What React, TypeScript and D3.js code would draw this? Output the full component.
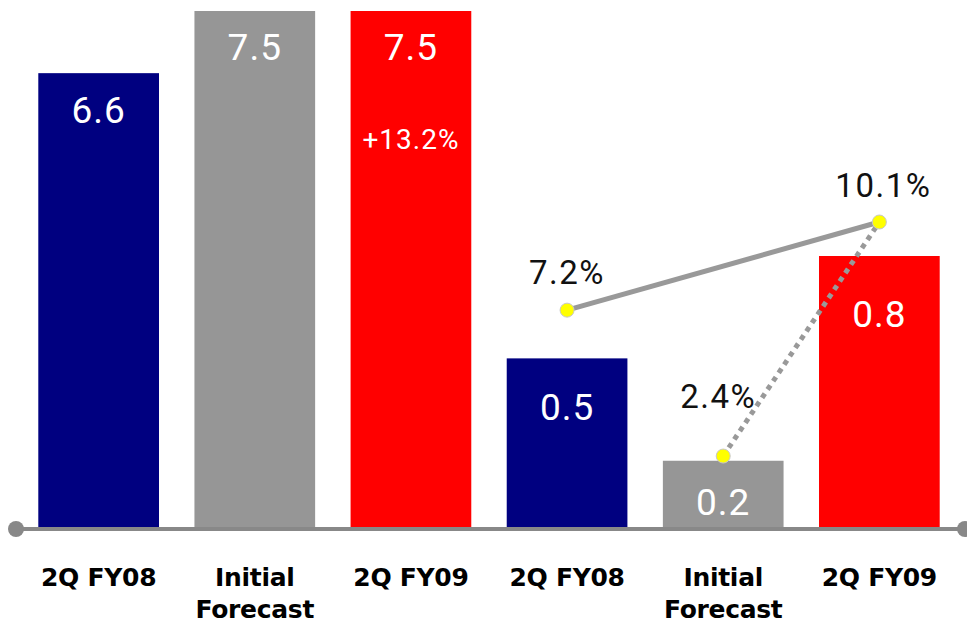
import React from "react";
import * as d3 from "d3";

// Two panels sharing one axis: sales (left three bars) and profit (right three bars)
const categories = ["2Q FY08", "Initial\nForecast", "2Q FY09", "2Q FY08", "Initial\nForecast", "2Q FY09"];
const salesValues = [6.6, 7.5, 7.5];
const profitValues = [0.5, 0.2, 0.8];
const marginValues = [7.2, 2.4, 10.1];
const marginLabels = ["7.2%", "2.4%", "10.1%"];
const growthLabel = "+13.2%";
const barColors = ["#000080", "#969696", "#ff0000", "#000080", "#969696", "#ff0000"];

const W = 967;
const H = 623;
const baseY = 529;

export default function App() {
  const x = d3
    .scaleBand<number>()
    .domain(d3.range(categories.length))
    .range([18, 960])
    .paddingInner(0.227)
    .paddingOuter(0.13);

  const ySales = d3.scaleLinear().domain([0, 7.5]).range([baseY, 11]);
  const yProfit = d3.scaleLinear().domain([0, 0.8]).range([baseY, 256]);
  const yMargin = d3.scaleLinear().domain([0, 10.1]).range([baseY, 222]);

  const bars = [
    ...salesValues.map((v, i) => ({ i, v, y: ySales(v) })),
    ...profitValues.map((v, i) => ({ i: i + 3, v, y: yProfit(v) })),
  ];
  const labelOffsets = [50, 49, 49, 62, 54, 71];

  const cx = (i: number) => (x(i) ?? 0) + x.bandwidth() / 2;
  const pts = marginValues.map((v, k) => ({ x: cx(k + 3), y: yMargin(v), label: marginLabels[k] }));
  const pctOffsets = [-26, -48, -25];
  const line = d3.line<{ x: number; y: number }>().x((d) => d.x).y((d) => d.y);

  return (
    <svg width={W} height={H} style={{ position: "absolute", left: 0, top: 0, background: "#fff" }}>
      {bars.map((b) => (
        <g key={b.i}>
          <rect x={x(b.i)} y={b.y} width={x.bandwidth()} height={baseY - b.y} fill={barColors[b.i]} />
          <text
            x={cx(b.i)}
            y={b.y + labelOffsets[b.i]}
            textAnchor="middle"
            fill="#fff"
            fontFamily="Roboto, sans-serif"
            fontSize={37}
            letterSpacing={1}
          >
            {b.v.toFixed(1)}
          </text>
        </g>
      ))}
      <text
        x={cx(2)}
        y={ySales(salesValues[2]) + 138}
        textAnchor="middle"
        fill="#fff"
        fontFamily="Roboto, sans-serif"
        fontSize={28}
        letterSpacing={1}
      >
        {growthLabel}
      </text>

      <line x1={16} x2={965} y1={baseY} y2={baseY} stroke="#888" strokeWidth={4} />
      <circle cx={16} cy={baseY} r={8} fill="#888" />
      <circle cx={965} cy={baseY} r={8} fill="#888" />

      <path d={line([pts[0], pts[2]]) ?? ""} stroke="#999" strokeWidth={5} fill="none" />
      <path d={line([pts[1], pts[2]]) ?? ""} stroke="#999" strokeWidth={5} strokeDasharray="5 5" fill="none" />
      {pts.map((p, k) => (
        <g key={k}>
          <circle cx={p.x} cy={p.y} r={7} fill="#ffff00" stroke="#c8c8c8" strokeWidth={1} />
          <text
            x={p.x + (k === 1 ? -5 : k === 2 ? 4 : 0)}
            y={p.y + pctOffsets[k]}
            textAnchor="middle"
            fill="#111"
            fontFamily="Roboto, sans-serif"
            fontSize={33}
            letterSpacing={1.5}
          >
            {p.label}
          </text>
        </g>
      ))}

      {categories.map((c, i) =>
        c.split("\n").map((ln, j) => (
          <text
            key={`${i}-${j}`}
            x={cx(i)}
            y={586 + j * 32}
            textAnchor="middle"
            fill="#000"
            fontFamily="'DejaVu Sans', Verdana, sans-serif"
            fontWeight="bold"
            fontSize={25}
            letterSpacing={-0.3}
          >
            {ln}
          </text>
        ))
      )}
    </svg>
  );
}
